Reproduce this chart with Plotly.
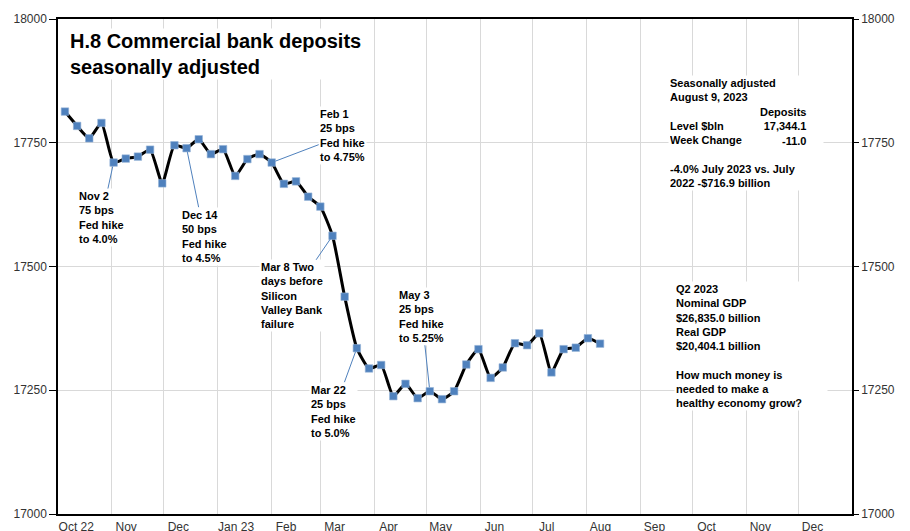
import pandas as pd
import plotly.graph_objects as go

# ---- data ----
deposits = [17813, 17784, 17759, 17790, 17710, 17718, 17722, 17736, 17668, 17745,
            17739, 17757, 17727, 17737, 17683, 17717, 17727, 17710, 17667, 17672,
            17641, 17621, 17562, 17439, 17335, 17294, 17301, 17238, 17263, 17234,
            17248, 17232, 17248, 17302, 17333, 17275, 17296, 17345, 17341, 17365,
            17286, 17333, 17336, 17355.1, 17344.1]
week_dates = pd.date_range("2022-10-05", periods=len(deposits), freq="7D")

month_starts = pd.date_range("2022-10-01", "2024-01-01", freq="MS")
month_labels = ["Oct 22", "Nov", "Dec", "Jan 23", "Feb", "Mar", "Apr", "May", "Jun",
                "Jul", "Aug", "Sep", "Oct", "Nov", "Dec"]

y_ticks = [17000, 17250, 17500, 17750, 18000]

events = [  # (date, text, ax, ay)
    ("2022-11-02", "Nov 2<br>75 bps<br>Fed hike<br>to 4.0%", -12, 55),
    ("2022-12-14", "Dec 14<br>50 bps<br>Fed hike<br>to 4.5%", 18, 88),
    ("2023-02-01", "Feb 1<br>25 bps<br>Fed hike<br>to 4.75%", 71, -27),
    ("2023-03-08", "Mar 8 Two<br>days before<br>Silicon<br>Valley Bank<br>failure", -41, 60),
    ("2023-03-22", "Mar 22<br>25 bps<br>Fed hike<br>to 5.0%", -23, 63),
    ("2023-05-03", "May 3<br>25 bps<br>Fed hike<br>to 5.25%", -8, -75),
]

FONT = "Liberation Sans, Arial, sans-serif"
BLUE = "#4F81BD"
GRID = "#d9d9d9"

label_vals = [d + pd.Timedelta(days=6 + 0.75 * len(t)) for d, t in zip(month_starts[:-1], month_labels)]

fig = go.Figure()
fig.add_trace(go.Scatter(
    x=week_dates, y=deposits, mode="lines+markers",
    line=dict(color="black", width=3, shape="spline", smoothing=0.5),
    marker=dict(symbol="square", size=7.5, color=BLUE, line=dict(color="#95B3D7", width=0.6)),
    showlegend=False, hoverinfo="x+y"))
fig.add_trace(go.Scatter(
    x=[week_dates[0]], y=[deposits[0]], yaxis="y2", mode="markers",
    marker=dict(opacity=0), showlegend=False, hoverinfo="skip"))

vals = dict(zip(week_dates.strftime("%Y-%m-%d"), deposits))
annotations = []
for d, txt, ax, ay in events:
    annotations.append(dict(
        x=d, y=vals[d], xref="x", yref="y", text="<b>" + txt + "</b>", showarrow=True,
        arrowhead=0, arrowwidth=1, arrowcolor=BLUE, standoff=4, ax=ax, ay=ay,
        align="left", bgcolor="white", borderpad=1,
        font=dict(family=FONT, size=11, color="black")))

annotations.append(dict(
    x=0.0126, y=0.982, xref="paper", yref="paper", xanchor="left", yanchor="top",
    text="<b>H.8 Commercial bank deposits<br>seasonally adjusted</b>", showarrow=False,
    align="left", bgcolor="white", borderpad=1,
    font=dict(family=FONT, size=20, color="black")))

annotations.append(dict(
    x=0.768, y=0.887, xref="paper", yref="paper", xanchor="left", yanchor="top",
    text="<b>Seasonally adjusted<br>August 9, 2023<br> <br>Level $bln<br>Week Change<br> <br>"
         "-4.0% July 2023 vs. July<br>2022 -$716.9 billion</b>",
    showarrow=False, align="left", bgcolor="white", borderpad=1, width=152,
    font=dict(family=FONT, size=11, color="black")))
annotations.append(dict(
    x=0.945, y=0.828, xref="paper", yref="paper", xanchor="right", yanchor="top",
    text="<b>Deposits<br>17,344.1<br>-11.0</b>",
    showarrow=False, align="right", borderpad=1,
    font=dict(family=FONT, size=11, color="black")))
annotations.append(dict(
    x=0.7758, y=0.4707, xref="paper", yref="paper", xanchor="left", yanchor="top",
    text="<b>Q2 2023<br>Nominal GDP<br>$26,835.0 billion<br>Real GDP<br>$20,404.1 billion<br> <br>"
         "How much money is<br>needed to make a<br>healthy economy grow?</b>",
    showarrow=False, align="left", bgcolor="white", borderpad=1, width=150,
    font=dict(family=FONT, size=11, color="black")))

fig.update_layout(
    width=910, height=531,
    margin=dict(l=58, r=58, t=19, b=17),
    paper_bgcolor="white", plot_bgcolor="white",
    font=dict(family=FONT, size=12, color="#333333"),
    xaxis=dict(
        type="date", range=[month_starts[0], month_starts[-1]], automargin=False,
        tickmode="array", tickvals=label_vals, ticktext=month_labels,
        ticks="outside", ticklen=1, tickcolor="rgba(0,0,0,0)",
        showgrid=False, zeroline=False,
        minor=dict(tickmode="array", tickvals=list(month_starts), showgrid=True,
                   gridcolor=GRID, gridwidth=1, ticks=""),
        showline=True, linecolor="black", linewidth=1.5, mirror=True,
        tickfont=dict(family=FONT, size=12, color="#333333")),
    yaxis=dict(
        range=[17000, 18000], tickmode="array", tickvals=y_ticks, automargin=False,
        tickformat="d", ticks="outside", ticklen=7, tickcolor="black",
        showgrid=True, gridcolor=GRID, zeroline=False,
        showline=True, linecolor="black", linewidth=1.5,
        tickfont=dict(family=FONT, size=12, color="#333333")),
    yaxis2=dict(
        range=[17000, 18000], tickmode="array", tickvals=y_ticks, automargin=False,
        tickformat="d", ticks="outside", ticklen=5, tickcolor="black",
        overlaying="y", side="right", showgrid=False, zeroline=False,
        showline=True, linecolor="black", linewidth=1.5,
        tickfont=dict(family=FONT, size=12, color="#333333")),
    annotations=annotations,
)

fig.write_html("out.html")
